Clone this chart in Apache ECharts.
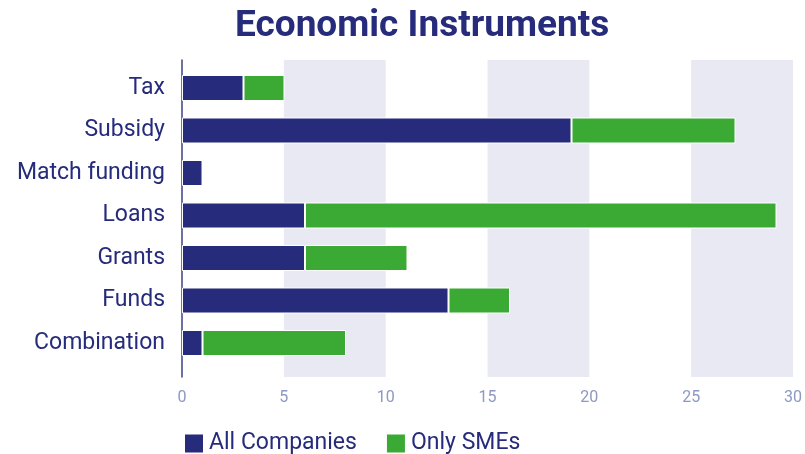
<!DOCTYPE html>
<html>
<head>
<meta charset="utf-8">
<script src="https://cdn.jsdelivr.net/npm/echarts@6/dist/echarts.min.js"></script>
<style>
  html, body { margin: 0; padding: 0; background: #ffffff; }
  #chart { width: 805px; height: 454px; }
</style>
</head>
<body>
<div id="chart"></div>
<script>
// Instrument categories, listed top to bottom
const categories = ['Tax', 'Subsidy', 'Match funding', 'Loans', 'Grants', 'Funds', 'Combination'];
// Counts per instrument
const allCompanies = [3, 19, 1, 6, 6, 13, 1];
const onlySMEs = [2, 8, 0, 23, 5, 3, 7];
// Value-axis ticks
const xTicks = [0, 5, 10, 15, 20, 25, 30];

const NAVY = '#262b7b';
const GREEN = '#3aaa35';
const FONT = 'Roboto';

const chart = echarts.init(document.getElementById('chart'));
chart.setOption({
  animation: false,
  textStyle: { fontFamily: FONT },
  title: {
    text: 'Economic Instruments',
    left: 230,
    top: 3,
    textStyle: { fontFamily: FONT, fontSize: 37, fontWeight: 'bold', color: NAVY }
  },
  legend: {
    left: 178,
    top: 427,
    itemWidth: 20,
    itemHeight: 20,
    itemGap: 28,
    icon: 'rect',
    textStyle: { fontFamily: FONT, fontSize: 23, color: NAVY, padding: [0, 0, 0, 0] },
    data: ['All Companies', 'Only SMEs']
  },
  grid: [
    // bars
    { left: 182, right: 8, top: 66.75, height: 297.5 },
    // background bands, baseline axis and tick labels
    { left: 182, right: 8, top: 60, height: 317 }
  ],
  xAxis: [
    {
      gridIndex: 0, type: 'value', min: xTicks[0], max: xTicks[xTicks.length - 1], interval: 5,
      axisLine: { show: false }, axisTick: { show: false }, axisLabel: { show: false }, splitLine: { show: false }
    },
    {
      gridIndex: 1, type: 'value', min: xTicks[0], max: xTicks[xTicks.length - 1], interval: 5,
      axisLine: { show: false }, axisTick: { show: false }, splitLine: { show: false },
      splitArea: { show: true, areaStyle: { color: ['rgba(0,0,0,0)', '#e8e9f2'] } },
      axisLabel: { color: '#8d98c3', fontSize: 16, fontFamily: FONT, margin: 13 }
    }
  ],
  yAxis: [
    {
      gridIndex: 0, type: 'category', data: categories, inverse: true,
      axisLine: { show: false }, axisTick: { show: false },
      axisLabel: { color: NAVY, fontSize: 23, fontFamily: FONT, margin: 17 }
    },
    {
      gridIndex: 1, type: 'value', min: 0, max: 1,
      axisLine: { show: true, lineStyle: { color: '#3d4285', width: 1.5 } },
      axisTick: { show: false }, axisLabel: { show: false }, splitLine: { show: false }
    }
  ],
  series: [
    {
      name: 'All Companies', type: 'bar', stack: 'total', xAxisIndex: 0, yAxisIndex: 0,
      barWidth: 26, data: allCompanies,
      itemStyle: { color: NAVY, borderColor: '#ffffff', borderWidth: 1 }
    },
    {
      name: 'Only SMEs', type: 'bar', stack: 'total', xAxisIndex: 0, yAxisIndex: 0,
      barWidth: 26, data: onlySMEs,
      itemStyle: { color: GREEN, borderColor: '#ffffff', borderWidth: 1 }
    },
    { type: 'line', xAxisIndex: 1, yAxisIndex: 1, data: [], silent: true }
  ]
});
</script>
</body>
</html>
